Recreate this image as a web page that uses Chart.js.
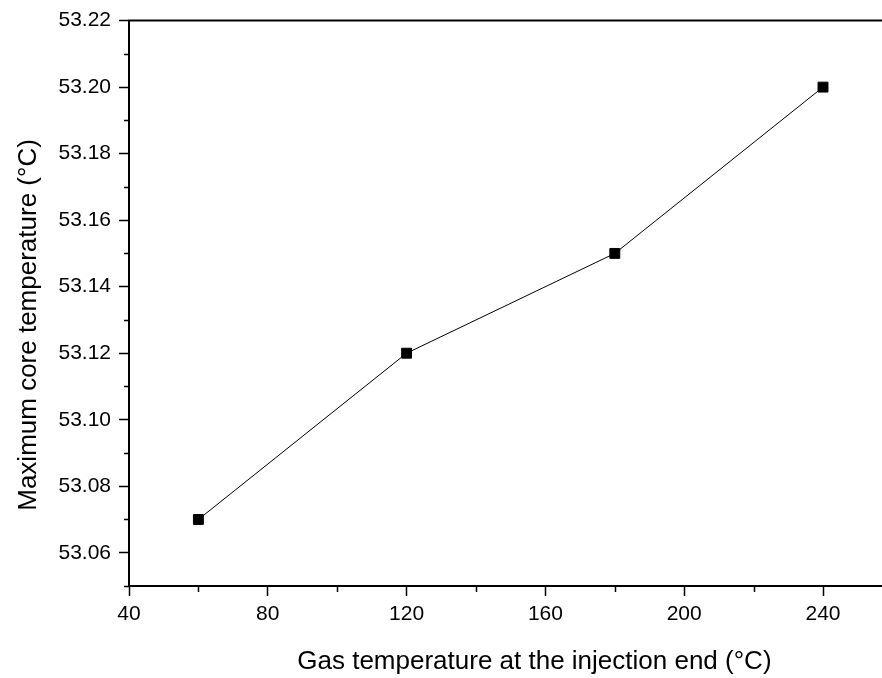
<!DOCTYPE html>
<html>
<head>
<meta charset="utf-8">
<script src="https://cdn.jsdelivr.net/npm/chart.js@4/dist/chart.umd.min.js"></script>
<style>
  html, body { margin: 0; padding: 0; background: #fff; }
  #wrap { width: 882px; height: 678px; }
</style>
</head>
<body>
<div id="wrap"><canvas id="line-chart"></canvas></div>
<script>
// data
const gasTemp = [60, 120, 180, 240];
const coreTemp = [53.07, 53.12, 53.15, 53.20];

const xTicks = [40, 80, 120, 160, 200, 240];
const xMinorTicks = [60, 100, 140, 180, 220];
const yTicks = [53.06, 53.08, 53.10, 53.12, 53.14, 53.16, 53.18, 53.20, 53.22];
const yMinorTicks = [53.05, 53.07, 53.09, 53.11, 53.13, 53.15, 53.17, 53.19, 53.21];

const FONT = "'Liberation Sans', Arial, sans-serif";

// minor ticks + top frame line
const frameTicks = {
  id: "frameTicks",
  afterDraw(chart) {
    const ctx = chart.ctx;
    const area = chart.chartArea;
    const x = chart.scales.x;
    const y = chart.scales.y;
    ctx.save();
    ctx.strokeStyle = "#000";
    ctx.lineWidth = 2;
    ctx.beginPath();
    ctx.moveTo(area.left - 1, area.top);
    ctx.lineTo(chart.width, area.top);
    ctx.stroke();
    ctx.lineWidth = 1.5;
    xMinorTicks.forEach((v) => {
      const px = Math.round(x.getPixelForValue(v)) + 0.5;
      ctx.beginPath();
      ctx.moveTo(px, area.bottom);
      ctx.lineTo(px, area.bottom + 6);
      ctx.stroke();
    });
    yMinorTicks.forEach((v) => {
      const py = Math.round(y.getPixelForValue(v)) + 0.5;
      ctx.beginPath();
      ctx.moveTo(area.left, py);
      ctx.lineTo(area.left - 5, py);
      ctx.stroke();
    });
    ctx.restore();
  }
};

const ctx = document.getElementById("line-chart").getContext("2d");
new Chart(ctx, {
  type: "line",
  data: {
    datasets: [
      {
        data: gasTemp.map((g, i) => ({ x: g, y: coreTemp[i] })),
        borderColor: "#000",
        borderWidth: 1,
        backgroundColor: "#000",
        pointStyle: "rect",
        pointRadius: 7,
        pointBorderWidth: 1,
        pointBorderColor: "#000",
        pointBackgroundColor: "#000",
        tension: 0,
        fill: false,
      },
    ],
  },
  options: {
    responsive: true,
    maintainAspectRatio: false,
    animation: false,
    layout: {
      autoPadding: false,
      padding: { top: 19, right: 0, left: 0, bottom: 0 },
    },
    plugins: {
      legend: { display: false },
      tooltip: { enabled: false },
    },
    scales: {
      x: {
        type: "linear",
        min: 40,
        max: 257,
        afterBuildTicks: (scale) => {
          scale.ticks = xTicks.map((v) => ({ value: v }));
        },
        afterFit: (scale) => {
          scale.height = 92;
          scale.paddingRight = 0;
        },
        grid: {
          drawOnChartArea: false,
          tickLength: 10,
          tickColor: "#000",
          tickWidth: 1.5,
        },
        border: { color: "#000", width: 2 },
        ticks: {
          color: "#000",
          padding: 6,
          maxRotation: 0,
          font: { family: FONT, size: 21 },
          callback: (v) => String(v),
        },
        title: {
          display: true,
          // leading spaces push the centred title right, as in the original
          text: "        Gas temperature at the injection end (°C)",
          color: "#000",
          font: { family: FONT, size: 26 },
          padding: { top: 0, bottom: 1 },
        },
      },
      y: {
        type: "linear",
        min: 53.05,
        max: 53.22,
        afterBuildTicks: (scale) => {
          scale.ticks = yTicks.map((v) => ({ value: v }));
        },
        afterFit: (scale) => { scale.width = 129; },
        grid: {
          drawOnChartArea: false,
          tickLength: 10,
          tickColor: "#000",
          tickWidth: 1.5,
        },
        border: { color: "#000", width: 2 },
        ticks: {
          color: "#000",
          padding: 8,
          font: { family: FONT, size: 21 },
          callback: (v) => Number(v).toFixed(2),
        },
        title: {
          display: true,
          text: "Maximum core temperature (°C)      ",
          color: "#000",
          font: { family: FONT, size: 26 },
          padding: { top: 13, bottom: 0 },
        },
      },
    },
  },
  plugins: [frameTicks],
});
</script>
</body>
</html>
